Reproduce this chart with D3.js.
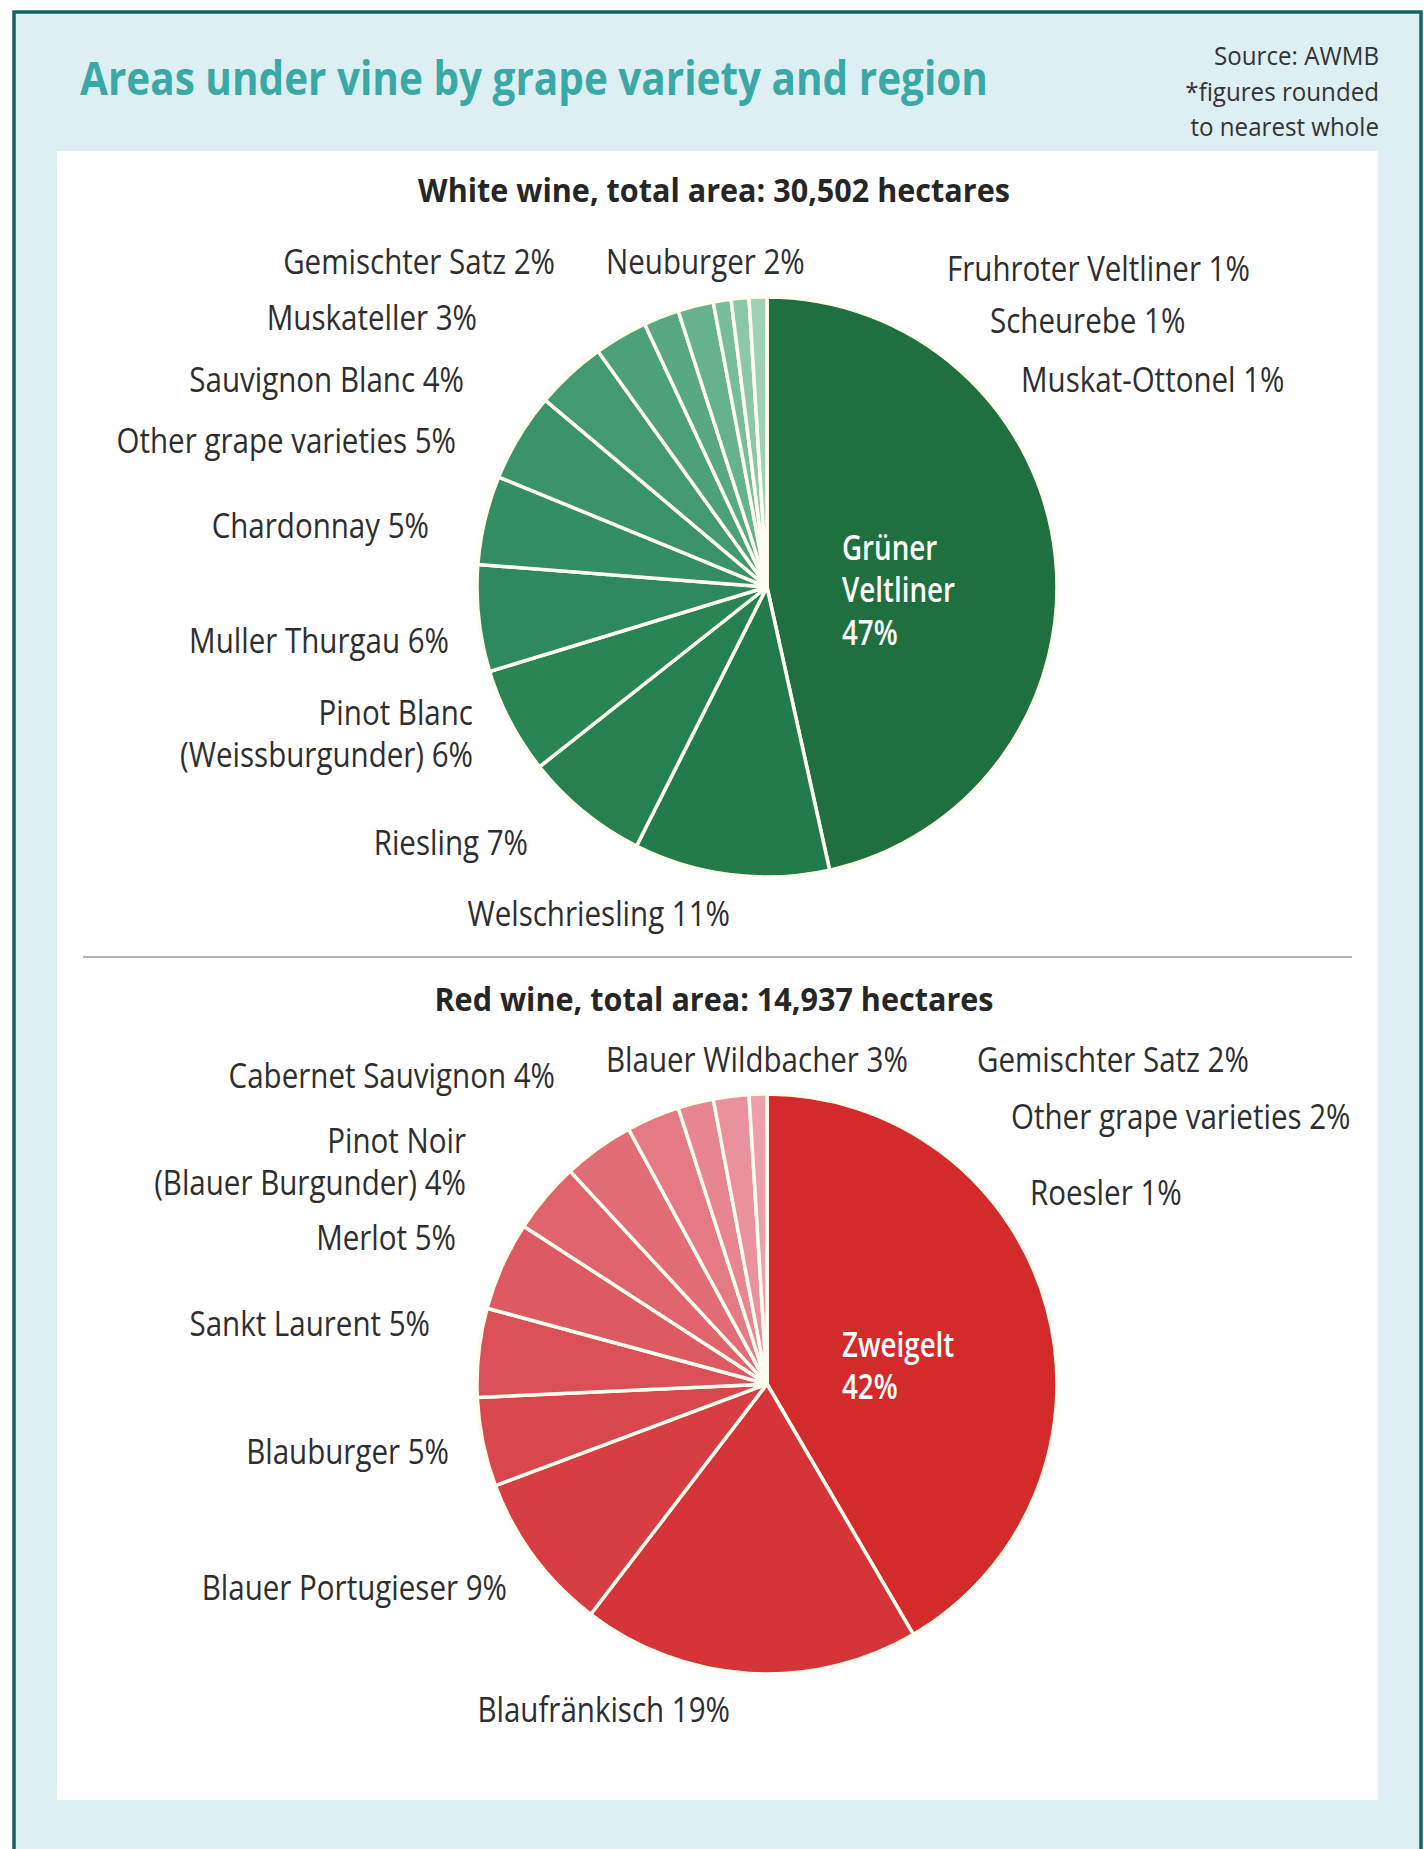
<!DOCTYPE html>
<html>
<head>
<meta charset="utf-8">
<script src="https://cdn.jsdelivr.net/npm/d3@7"></script>
<style>
  html, body { margin: 0; padding: 0; background: #ffffff; }
  svg { display: block; }
  text { font-family: "Open Sans", "Noto Sans", "DejaVu Sans", sans-serif; }
</style>
</head>
<body>
<svg id="chart" width="1424" height="1849"></svg>
<script>
// ---------------- DATA ----------------
const chartTitle = "Areas under vine by grape variety and region";
const sourceLines = ["Source: AWMB", "*figures rounded", "to nearest whole"];

const whiteTitle = "White wine, total area: 30,502 hectares";
const whiteVarieties = [
  "Grüner|Veltliner", "Welschriesling", "Riesling", "Pinot Blanc|(Weissburgunder)",
  "Muller Thurgau", "Chardonnay", "Other grape varieties", "Sauvignon Blanc",
  "Muskateller", "Gemischter Satz", "Neuburger", "Fruhroter Veltliner",
  "Scheurebe", "Muskat-Ottonel"
];
const whiteShares = [47, 11, 7, 6, 6, 5, 5, 4, 3, 2, 2, 1, 1, 1];

const redTitle = "Red wine, total area: 14,937 hectares";
const redVarieties = [
  "Zweigelt", "Blaufränkisch", "Blauer Portugieser", "Blauburger", "Sankt Laurent",
  "Merlot", "Pinot Noir|(Blauer Burgunder)", "Cabernet Sauvignon", "Blauer Wildbacher",
  "Gemischter Satz", "Other grape varieties", "Roesler"
];
const redShares = [42, 19, 9, 5, 5, 5, 4, 4, 3, 2, 2, 1];

// ---------------- STYLE / LAYOUT ----------------
const whiteColors = ["#1f6f3f", "#237b4b", "#26804f", "#2a8555", "#2e8a5b", "#338e61",
  "#3a9467", "#439a6f", "#4ca176", "#58a981", "#66b28c", "#78bd9b", "#8ac8a9", "#9dd2b7"];
const redColors = ["#d32a2c", "#d53538", "#d73e43", "#d8474d", "#da5056", "#dc5a61",
  "#df646b", "#e16e76", "#e47a82", "#e7868e", "#ea929b", "#eea0a9"];

// label layout: [anchor, dx, dy] relative to pie centre (dy = first line centre)
const whiteLabelPos = [
  ["start", 75, -39, "inner"], ["end", -37, 327], ["end", -239, 256], ["end", -294, 126],
  ["end", -318, 54], ["end", -338, -61], ["end", -311, -146], ["end", -303, -207],
  ["end", -290, -269], ["end", -212, -325], ["start", -161, -325], ["start", 180, -318],
  ["start", 223, -266], ["start", 254, -207]
];
const redLabelPos = [
  ["start", 75, -39, "inner"], ["end", -37, 326], ["end", -260, 204], ["end", -318, 68],
  ["end", -337, -60], ["end", -311, -146], ["end", -301, -243], ["end", -212, -308],
  ["start", -161, -324], ["start", 210, -324], ["start", 244, -267], ["start", 263, -191]
];

const W = 1424, H = 1849;
const svg = d3.select("#chart");

// font calibration: compress humanist sans to mimic condensed typeface
function measure(str, size, weight) {
  const t = svg.append("text").attr("font-size", size).attr("font-weight", weight).text(str);
  const w = t.node().getComputedTextLength();
  t.remove();
  return w;
}
const styles = {
  title:    { size: 46, weight: 700, fill: "#3aa9a5", sx: 908 / measure(chartTitle, 46, 700) },
  source:   { size: 26, weight: 400, fill: "#333333", sx: 165 / measure("Source: AWMB", 26, 400) },
  subtitle: { size: 32, weight: 700, fill: "#262626", sx: 592 / measure(whiteTitle, 32, 700) },
  label:    { size: 34, weight: 400, fill: "#2e2e2e", sx: 272 / measure("Gemischter Satz 2%", 34, 400) },
  inner:    { size: 34, weight: 600, fill: "#ffffff", sx: 113 / measure("Veltliner", 34, 600) }
};

function addText(g, str, x, y, anchor, st, baseline) {
  const t = g.append("text")
    .attr("transform", `translate(${x},${y}) scale(${st.sx},1)`)
    .attr("text-anchor", anchor)
    .attr("font-size", st.size)
    .attr("font-weight", st.weight)
    .attr("fill", st.fill)
    .text(str);
  if (!baseline) t.attr("dy", "0.35em");
  return t;
}

// ---------------- BACKGROUND ----------------
svg.append("rect").attr("x", 0).attr("y", 0).attr("width", W).attr("height", H).attr("fill", "#ffffff");
svg.append("rect").attr("x", 14).attr("y", 12).attr("width", 1407).attr("height", H)
  .attr("fill", "#deeff4").attr("stroke", "#1b6264").attr("stroke-width", 3.5);
svg.append("rect").attr("x", 57).attr("y", 151).attr("width", 1321).attr("height", 1649)
  .attr("fill", "#ffffff");

// title + source
addText(svg, chartTitle, 80, 95, "start", styles.title, true);
sourceLines.forEach((s, i) => addText(svg, s, 1379, 65 + i * 35.5, "end", styles.source, true));

// separator
svg.append("line").attr("x1", 83).attr("x2", 1352).attr("y1", 957).attr("y2", 957)
  .attr("stroke", "#b5b5b5").attr("stroke-width", 2);

// ---------------- PIES ----------------
const radius = 290;
const pie = d3.pie().sort(null).value(d => d.value).startAngle(0).endAngle(2 * Math.PI);
const arc = d3.arc().innerRadius(0).outerRadius(radius);

function drawPie(cx, cy, titleY, title, names, shares, colors, layout) {
  addText(svg, title, 714, titleY, "middle", styles.subtitle);
  const data = names.map((n, i) => ({ name: n, value: shares[i], color: colors[i], pos: layout[i] }));
  const g = svg.append("g").attr("transform", `translate(${cx},${cy})`);
  g.selectAll("path").data(pie(data)).join("path")
    .attr("d", arc)
    .attr("fill", d => d.data.color)
    .attr("stroke", "#fffdf0")
    .attr("stroke-width", 3.5)
    .attr("stroke-linejoin", "round");

  const lg = svg.append("g").attr("transform", `translate(${cx},${cy})`);
  data.forEach(d => {
    const [anchor, dx, dy, kind] = d.pos;
    let lines;
    if (kind === "inner") {
      lines = d.name.split("|").concat([d.value + "%"]);
    } else {
      lines = d.name.split("|");
      lines[lines.length - 1] += " " + d.value + "%";
    }
    const st = kind === "inner" ? styles.inner : styles.label;
    lines.forEach((ln, i) => addText(lg, ln, dx, dy + i * 42.5, anchor, st));
  });
}

drawPie(767, 587, 191, whiteTitle, whiteVarieties, whiteShares, whiteColors, whiteLabelPos);
drawPie(767, 1384, 1000, redTitle, redVarieties, redShares, redColors, redLabelPos);
</script>
</body>
</html>
